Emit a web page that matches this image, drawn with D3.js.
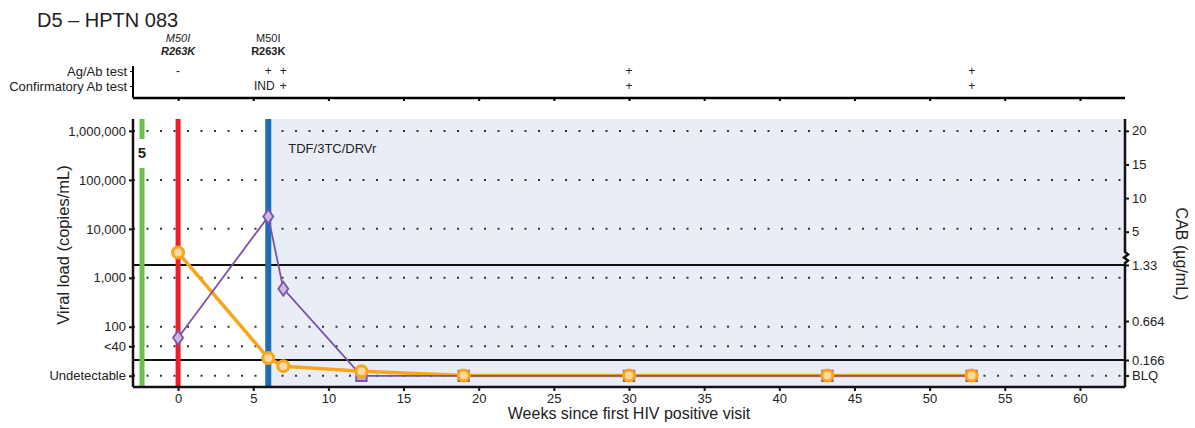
<!DOCTYPE html>
<html>
<head>
<meta charset="utf-8">
<script src="https://cdn.jsdelivr.net/npm/d3@7"></script>
<style>
  body { margin: 0; background: #fff; }
  svg { font-family: "Liberation Sans", Arial, sans-serif; }
</style>
</head>
<body>
<svg width="1195" height="428"></svg>
<script>
// ---- data ----
var weeks      = [0, 6, 7, 12.2, 19, 30, 43.2, 52.8];
var viralLoad  = [60, 17800, 600, "U", "U", "U", "U", "U"];   // copies/mL, U = undetectable
var cabConc    = [2.7, 0.19, 0.10, 0.045, "BLQ", "BLQ", "BLQ", "BLQ"]; // ug/mL
var vlTicks    = [10, 40, 100, 1000, 10000, 100000, 1000000];
var cabTicks   = [0, 0.166, 0.664, 1.33, 5, 10, 15, 20];
var agabWeeks  = [0, 6, 7, 30, 52.8];
var agabText   = ["-", "+", "+", "+", "+"];
var confWeeks  = [6, 7, 30, 52.8];
var confText   = ["IND", "+", "+", "+"];
var mutWeeks   = [0, 6];
var mutLine1   = ["M50I", "M50I"];
var mutLine2   = ["R263K", "R263K"];
var mutItalic  = [true, false];
var eventWeeks = [-2.4, 0, 6];        // green, red, blue bars
var artStart   = 6;                   // TDF/3TC/DRVr from week 6

var UNDET = 10, BLQ = 0;

// ---- layout ----
var svg = d3.select("svg");
var L = 133, T = 119, W = 992, H = 268;
var x = d3.scaleLinear().domain([-3, 63]).range([0, W]);
var y = d3.scaleLog().domain([5.9, 1.75e6]).range([H, 0]);
// broken CAB axis, piecewise
var yc = d3.scaleLinear()
  .domain([0, 0.166, 0.664, 1.33, 5, 20])
  .range([256.5, 241, 202, 146, 112.7, 11.8]);

var purple = "#7b52ab", orange = "#f8a51c";

// title
svg.append("text").attr("x", 37).attr("y", 27).attr("font-size", 20).attr("fill", "#222")
  .text("D5 \u2013 HPTN 083");

// mutation notes
var mut = svg.append("g");
mutWeeks.forEach(function(w, i){
  mut.append("text").attr("x", L + x(w)).attr("y", 42).attr("text-anchor", "middle")
    .attr("font-size", 11).attr("font-style", mutItalic[i] ? "italic" : "normal").attr("fill", "#222")
    .text(mutLine1[i]);
  mut.append("text").attr("x", L + x(w)).attr("y", 55).attr("text-anchor", "middle")
    .attr("font-size", 11).attr("font-weight", "bold").attr("font-style", mutItalic[i] ? "italic" : "normal").attr("fill", "#222")
    .text(mutLine2[i]);
});

// test panel
var rows = d3.scalePoint().domain(["Ag/Ab test", "Confirmatory Ab test"]).range([71, 86]);
var panel = svg.append("g");
panel.append("g").attr("transform", "translate(" + L + ",0)")
  .call(d3.axisLeft(rows).tickSize(3).tickPadding(3))
  .call(function(g){ g.select(".domain").attr("d", "M0,66V98").attr("stroke-width", 2); })
  .selectAll("text").attr("font-size", 13).attr("fill", "#222");
panel.append("g").attr("transform", "translate(" + L + ",98)")
  .call(d3.axisBottom(x).tickValues(d3.range(0, 61, 5)).tickSize(3).tickFormat(""))
  .call(function(g){ g.select(".domain").attr("d", "M0,0H" + W).attr("stroke-width", 2.5); g.selectAll("line").attr("stroke-width", 2); });
agabWeeks.forEach(function(w, i){
  panel.append("text").attr("x", L + x(w)).attr("y", 75).attr("text-anchor", "middle")
    .attr("font-size", 12).attr("fill", "#222").text(agabText[i]);
});
confWeeks.forEach(function(w, i){
  panel.append("text").attr("x", L + x(w) + (confText[i] === "IND" ? -4 : 0)).attr("y", 90)
    .attr("text-anchor", "middle").attr("font-size", 12).attr("fill", "#222").text(confText[i]);
});

// main plot
var g = svg.append("g").attr("transform", "translate(" + L + "," + T + ")");
g.append("rect").attr("x", x(artStart)).attr("y", 0).attr("width", W - x(artStart)).attr("height", H)
  .attr("fill", "#e9edf6");

// dotted grid at viral load ticks
g.selectAll(".grid").data(vlTicks).enter().append("line")
  .attr("x1", 0).attr("x2", W).attr("y1", function(d){ return y(d); }).attr("y2", function(d){ return y(d); })
  .attr("stroke", "#333").attr("stroke-width", 2).attr("stroke-dasharray", "2,11.5");

// limits of CAB axis
g.selectAll(".lim").data([1.33, 0.166]).enter().append("line")
  .attr("x1", 0).attr("x2", W).attr("y1", function(d){ return yc(d); }).attr("y2", function(d){ return yc(d); })
  .attr("stroke", "#111").attr("stroke-width", 2);

// event bars
var barCol = ["#6cbf4a", "#e8202a", "#1f6db5"];
g.append("rect").attr("x", x(eventWeeks[0]) - 2.5).attr("y", 0).attr("width", 5).attr("height", 20).attr("fill", barCol[0]);
g.append("rect").attr("x", x(eventWeeks[0]) - 2.5).attr("y", 49).attr("width", 5).attr("height", H - 49).attr("fill", barCol[0]);
g.append("text").attr("x", x(eventWeeks[0])).attr("y", 39).attr("text-anchor", "middle")
  .attr("font-size", 15).attr("font-weight", "bold").attr("fill", "#222").text("5");
g.append("rect").attr("x", x(eventWeeks[1]) - 2.5).attr("y", 0).attr("width", 5).attr("height", H).attr("fill", barCol[1]);
g.append("rect").attr("x", x(eventWeeks[2]) - 3).attr("y", 0).attr("width", 6).attr("height", H).attr("fill", barCol[2]);

g.append("text").attr("x", x(artStart) + 20).attr("y", 34).attr("font-size", 13).attr("fill", "#222")
  .text("TDF/3TC/DRVr");

// series
var vl = weeks.map(function(w, i){ return { w: w, v: viralLoad[i] === "U" ? UNDET : viralLoad[i], u: viralLoad[i] === "U" }; });
var cab = weeks.map(function(w, i){ return { w: w, c: cabConc[i] === "BLQ" ? BLQ : cabConc[i] }; });

g.append("path").datum(cab)
  .attr("d", d3.line().x(function(d){ return x(d.w); }).y(function(d){ return yc(d.c); }))
  .attr("fill", "none").attr("stroke", orange).attr("stroke-width", 3.5);
g.append("path").datum(vl)
  .attr("d", d3.line().x(function(d){ return x(d.w); }).y(function(d){ return y(d.v); }))
  .attr("fill", "none").attr("stroke", purple).attr("stroke-width", 1.8);

g.selectAll(".vl").data(vl).enter().append("path")
  .attr("transform", function(d){ return "translate(" + x(d.w) + "," + y(d.v) + ")"; })
  .attr("d", function(d){ return d.u ? d3.symbol(d3.symbolSquare, 110)() : "M0,-7L5,0L0,7L-5,0Z"; })
  .attr("fill", function(d){ return d.u ? "#b9a6d8" : "#c9b9e3"; })
  .attr("stroke", purple).attr("stroke-width", 1.8);

g.selectAll(".cab").data(cab).enter().append("circle")
  .attr("cx", function(d){ return x(d.w); }).attr("cy", function(d){ return yc(d.c); })
  .attr("r", 5.5).attr("fill", "#fbd9a0").attr("stroke", orange).attr("stroke-width", 3);

// axes
var axL = g.append("g").call(d3.axisLeft(y).tickValues(vlTicks).tickSize(4).tickPadding(3)
  .tickFormat(function(d){ return d === UNDET ? "Undetectable" : d === 40 ? "<40" : d3.format(",")(d); }));
var axR = g.append("g").attr("transform", "translate(" + W + ",0)")
  .call(d3.axisRight(yc).tickValues(cabTicks).tickSize(4).tickPadding(3)
  .tickFormat(function(d){ return d === BLQ ? "BLQ" : String(d); }));
var axB = g.append("g").attr("transform", "translate(0," + H + ")")
  .call(d3.axisBottom(x).tickValues(d3.range(0, 61, 5)).tickSize(4).tickPadding(3));
[axL, axR, axB].forEach(function(a){
  a.select(".domain").attr("stroke-width", 2.5).attr("stroke", "#111");
  a.selectAll(".tick line").attr("stroke-width", 2).attr("stroke", "#111");
  a.selectAll("text").attr("font-size", 13).attr("fill", "#222");
});
axL.select(".domain").attr("d", "M0,0V" + H);
axB.select(".domain").attr("d", "M0,0H" + W);

// break zigzag on the CAB axis just above 1.33
var yb = yc(1.33);
axR.select(".domain").attr("d", "M0,0V" + (yb - 13) + "l3,2.5l-4,3l4,3l-3,2.5V" + H)
  .attr("fill", "none");

// axis titles
svg.append("text").attr("transform", "translate(68.5,245) rotate(-90)")
  .attr("text-anchor", "middle").attr("font-size", 16.5).attr("fill", "#222").text("Viral load (copies/mL)");
svg.append("text").attr("transform", "translate(1176,254) rotate(90)")
  .attr("text-anchor", "middle").attr("font-size", 16).attr("fill", "#222").text("CAB (\u00b5g/mL)");
svg.append("text").attr("x", L + x(30)).attr("y", 419).attr("text-anchor", "middle")
  .attr("font-size", 16).attr("fill", "#222").text("Weeks since first HIV positive visit");
</script>
</body>
</html>
